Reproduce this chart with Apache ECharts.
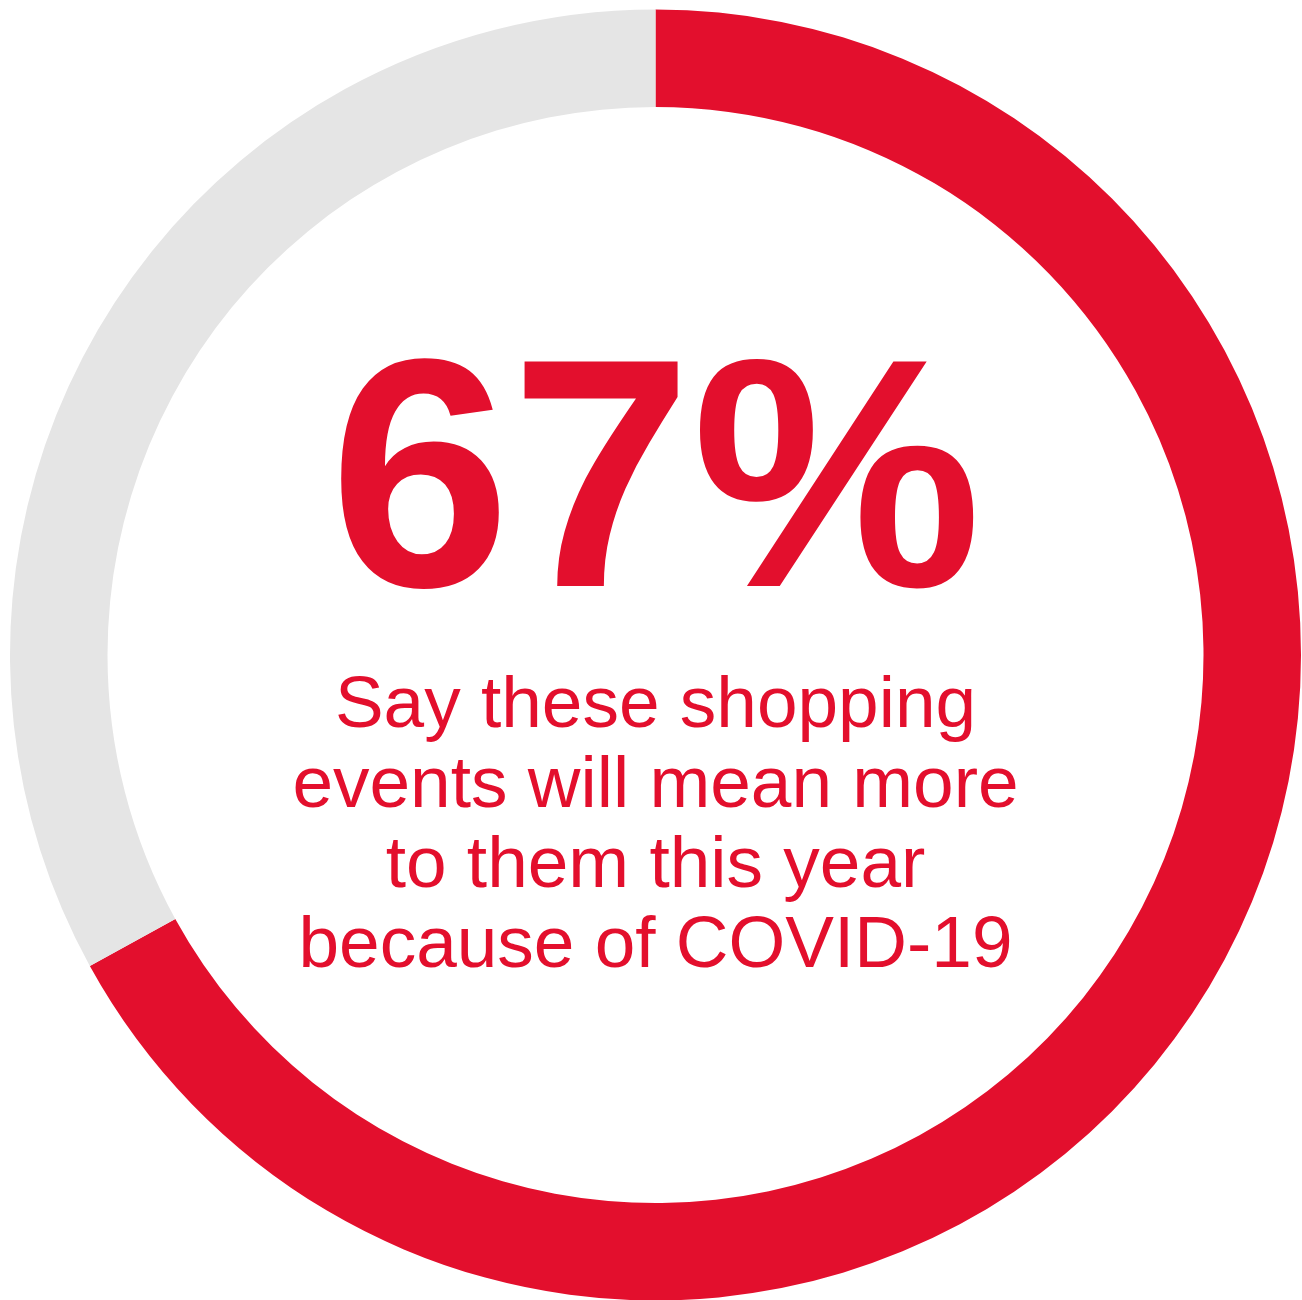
<!DOCTYPE html>
<html>
<head>
<meta charset="utf-8">
<title>Shopping events and COVID-19</title>
<script src="https://cdn.jsdelivr.net/npm/echarts@6/dist/echarts.min.js"></script>
<style>
  html, body { margin: 0; padding: 0; background: #ffffff; }
  #chart { width: 1302px; height: 1300px; }
</style>
</head>
<body>
<div id="chart"></div>
<script>
// Share of respondents (percent)
const categories = ['Will mean more', 'Other'];
const shares = [67, 33];
const sliceColors = ['#E30F2D', '#E5E5E5'];
const captionLines = [
  'Say these shopping',
  'events will mean more',
  'to them this year',
  'because of COVID-19'
];

const chart = echarts.init(document.getElementById('chart'), null, { renderer: 'canvas' });

const CX = 655.5, CY = 655;
const RED = sliceColors[0];
const FONT = '"Liberation Sans", Arial, Helvetica, sans-serif';

chart.setOption({
  animation: false,
  backgroundColor: '#ffffff',
  series: [{
    type: 'pie',
    silent: true,
    center: [CX, CY],
    radius: [548, 645.5],
    startAngle: 90,
    clockwise: true,
    label: { show: false },
    labelLine: { show: false },
    emphasis: { disabled: true },
    itemStyle: { borderWidth: 0 },
    data: categories.map((name, i) => ({
      name: name,
      value: shares[i],
      itemStyle: { color: sliceColors[i] }
    }))
  }],
  graphic: [
    {
      type: 'text',
      x: CX,
      y: 496,
      silent: true,
      style: {
        text: shares[0] + '%',
        fill: RED,
        font: 'bold 326px ' + FONT,
        align: 'center',
        verticalAlign: 'middle'
      }
    },
    {
      type: 'text',
      x: CX,
      y: 827,
      silent: true,
      style: {
        text: captionLines.join('\n'),
        fill: RED,
        font: '73px ' + FONT,
        lineHeight: 80,
        align: 'center',
        verticalAlign: 'middle'
      }
    }
  ]
});
</script>
</body>
</html>
